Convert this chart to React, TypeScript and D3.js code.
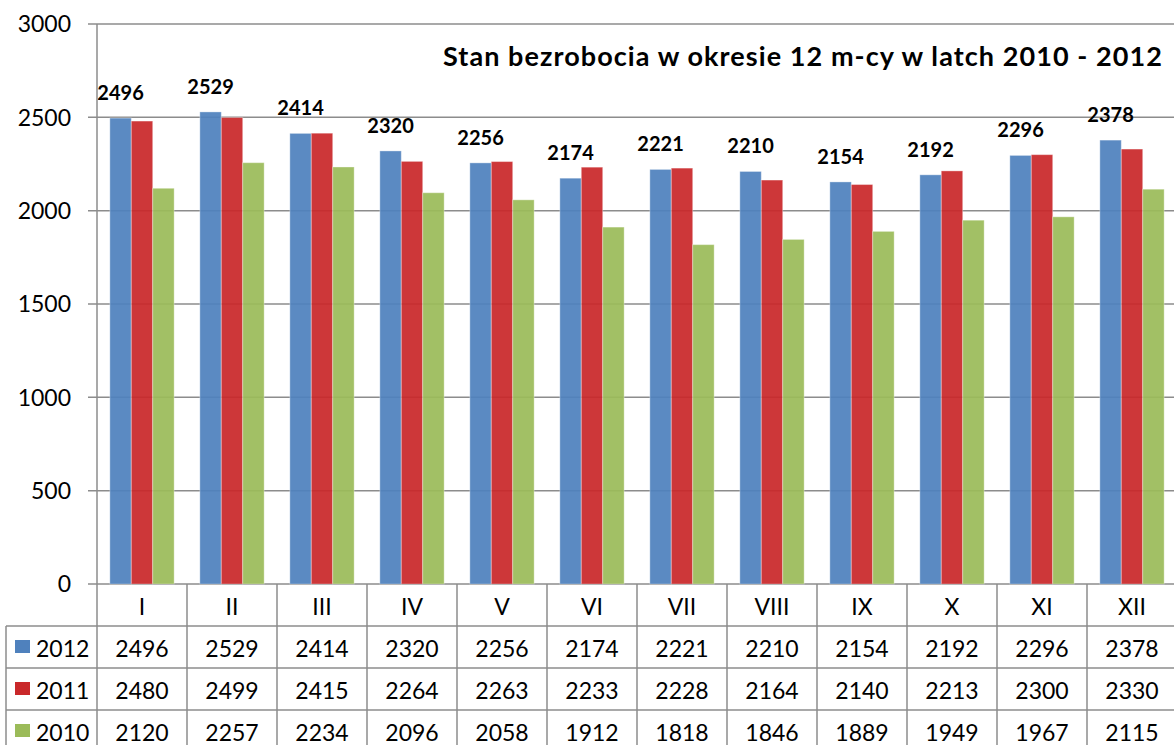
import React from "react";
import * as d3 from "d3";

const categories = ["I", "II", "III", "IV", "V", "VI", "VII", "VIII", "IX", "X", "XI", "XII"];
const seriesNames = ["2012", "2011", "2010"];
const values2012 = [2496, 2529, 2414, 2320, 2256, 2174, 2221, 2210, 2154, 2192, 2296, 2378];
const values2011 = [2480, 2499, 2415, 2264, 2263, 2233, 2228, 2164, 2140, 2213, 2300, 2330];
const values2010 = [2120, 2257, 2234, 2096, 2058, 1912, 1818, 1846, 1889, 1949, 1967, 2115];
const yTicks = [0, 500, 1000, 1500, 2000, 2500, 3000];
const colors = ["#4F81BD", "#C9282A", "#9BBB59"];
const title = "Stan bezrobocia w okresie 12 m-cy w latch 2010 - 2012";

const W = 1174;
const H = 745;
const FONT = "Lato, 'Open Sans', sans-serif";

export default function App() {
  const series = [values2012, values2011, values2010];
  const left = 97;
  const right = 1177;
  const top = 24;
  const bottom = 584;
  const x = d3.scaleBand<string>().domain(categories).range([left, right]).padding(0);
  const xs = d3.scaleBand<string>().domain(seriesNames).range([0, x.bandwidth()]).paddingInner(0).paddingOuter(0.6);
  const y = d3.scaleLinear().domain([0, 3000]).range([bottom, top]);
  const rowH = 42;
  const tableTop = bottom;
  const gridColor = "#8c8c8c";

  return (
    <svg width={W} height={H} style={{ position: "absolute", left: 0, top: 0, background: "#fff" }}>
      {/* gridlines */}
      {yTicks.map((t) => (
        <g key={t}>
          <line x1={88} x2={W} y1={y(t)} y2={y(t)} stroke={gridColor} strokeWidth={1.5} />
          <text x={71} y={y(t)} dy="0.36em" textAnchor="end" fontFamily={FONT} fontSize={23} fill="#000">
            {t}
          </text>
        </g>
      ))}
      {/* bars */}
      {categories.map((c, i) => (
        <g key={c} transform={`translate(${x(c)},0)`}>
          {seriesNames.map((s, j) => (
            <rect
              key={s}
              x={xs(s)}
              y={y(series[j][i])}
              width={xs.bandwidth()}
              height={y(0) - y(series[j][i])}
              fill={colors[j]}
              fillOpacity={0.93}
              stroke="#ffffff"
              strokeOpacity={0.35}
              strokeWidth={1}
            />
          ))}
          <text
            x={(xs("2012") as number) + xs.bandwidth() / 2}
            y={y(values2012[i]) - 18}
            textAnchor="middle"
            fontFamily={FONT}
            fontWeight="bold"
            fontSize={20}
            fill="#000"
          >
            {values2012[i]}
          </text>
        </g>
      ))}
      {/* axis line */}
      <line x1={left} x2={left} y1={top} y2={tableTop + rowH * 4} stroke={gridColor} strokeWidth={1.5} />
      {/* table */}
      {[1, 2, 3].map((r) => (
        <line key={r} x1={6} x2={W} y1={tableTop + rowH * r} y2={tableTop + rowH * r} stroke={gridColor} strokeWidth={1.5} />
      ))}
      <line x1={6} x2={6} y1={tableTop + rowH} y2={H} stroke={gridColor} strokeWidth={1.5} />
      {categories.map((c) => (
        <g key={c}>
          <line x1={(x(c) as number) + x.bandwidth()} x2={(x(c) as number) + x.bandwidth()} y1={tableTop} y2={H} stroke={gridColor} strokeWidth={1.5} />
          <text x={(x(c) as number) + x.bandwidth() / 2} y={tableTop + 31} textAnchor="middle" fontFamily={FONT} fontSize={23} fill="#000">
            {c}
          </text>
        </g>
      ))}
      {seriesNames.map((s, j) => (
        <g key={s}>
          <rect x={15} y={tableTop + rowH * (j + 1) + 14} width={15} height={13} fill={colors[j]} />
          <text x={36} y={tableTop + rowH * (j + 1) + 31} fontFamily={FONT} fontSize={23} fill="#000">
            {s}
          </text>
          {categories.map((c, i) => (
            <text
              key={c}
              x={(x(c) as number) + x.bandwidth() / 2}
              y={tableTop + rowH * (j + 1) + 31}
              textAnchor="middle"
              fontFamily={FONT}
              fontSize={23}
              fill="#000"
            >
              {series[j][i]}
            </text>
          ))}
        </g>
      ))}
      {/* title */}
      <text
        x={443}
        y={66}
        fontFamily={FONT}
        fontWeight="bold"
        fontSize={27}
        textLength={719}
        lengthAdjust="spacing"
        fill="#000"
      >
        {title}
      </text>
    </svg>
  );
}
